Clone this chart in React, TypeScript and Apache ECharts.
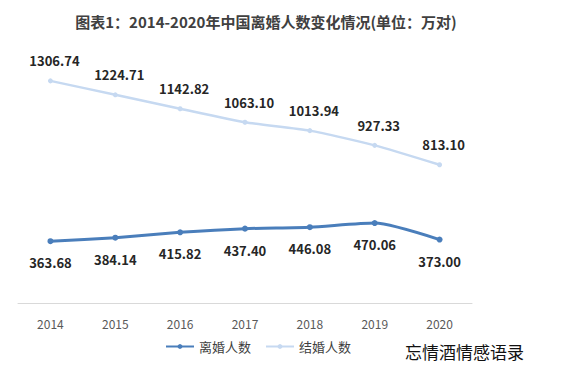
import React, { useEffect, useRef } from "react";
import * as echarts from "echarts";

const years = ["2014", "2015", "2016", "2017", "2018", "2019", "2020"];
const divorce = [363.68, 384.14, 415.82, 437.4, 446.08, 470.06, 373.0];
const marriage = [1306.74, 1224.71, 1142.82, 1063.1, 1013.94, 927.33, 813.1];
const titleText = "图表1：2014-2020年中国离婚人数变化情况(单位：万对)";
const sourceText = "忘情酒情感语录";

export default function App() {
  const ref = useRef<HTMLDivElement>(null);
  useEffect(() => {
    const chart = echarts.init(ref.current!, null, { renderer: "svg" });
    const font = "'Microsoft YaHei', 'Noto Sans CJK SC', sans-serif";
    chart.setOption({
      animation: false,
      backgroundColor: "#ffffff",
      title: {
        text: titleText,
        left: 261,
        textAlign: "center",
        top: 9,
        textStyle: { fontSize: 15, fontWeight: "bold", color: "#404040", fontFamily: font },
      },
      legend: {
        data: ["离婚人数", "结婚人数"],
        left: 160,
        top: 335,
        itemWidth: 28,
        itemHeight: 6,
        itemGap: 14,
        textStyle: { fontSize: 13, color: "#404040", fontFamily: font },
      },
      graphic: [
        {
          type: "text",
          left: 405,
          top: 343,
          style: { text: sourceText, fontSize: 17, fill: "#111", fontFamily: font },
        },
      ],
      grid: { left: 18, right: 99, top: 65, bottom: 74 },
      xAxis: {
        type: "category",
        data: years,
        boundaryGap: true,
        axisLine: { lineStyle: { color: "#d9d9d9", width: 1 } },
        axisTick: { show: false },
        axisLabel: { color: "#595959", fontSize: 12, margin: 14, fontFamily: font },
      },
      yAxis: {
        type: "value",
        min: 0,
        max: 1400,
        show: false,
        splitLine: { show: false },
      },
      series: [
        {
          name: "离婚人数",
          type: "line",
          data: divorce,
          smooth: 0.2,
          symbol: "circle",
          symbolSize: 6,
          lineStyle: { color: "#4a7ebb", width: 3 },
          itemStyle: { color: "#4a7ebb" },
          label: {
            show: true,
            position: "bottom",
            distance: 12,
            fontSize: 13,
            fontWeight: "bold",
            color: "#262626",
            fontFamily: font,
            formatter: (p: any) => p.value.toFixed(2),
          },
        },
        {
          name: "结婚人数",
          type: "line",
          data: marriage,
          smooth: 0.2,
          symbol: "circle",
          symbolSize: 5,
          lineStyle: { color: "#c6d9f1", width: 2.5 },
          itemStyle: { color: "#c6d9f1" },
          label: {
            show: true,
            position: "top",
            distance: 11,
            offset: [4, 0],
            fontSize: 13,
            fontWeight: "bold",
            color: "#262626",
            fontFamily: font,
            formatter: (p: any) => p.value.toFixed(2),
          },
        },
      ],
    });
    return () => chart.dispose();
  }, []);
  return <div ref={ref} style={{ width: 571, height: 377, margin: -8 }} />;
}
